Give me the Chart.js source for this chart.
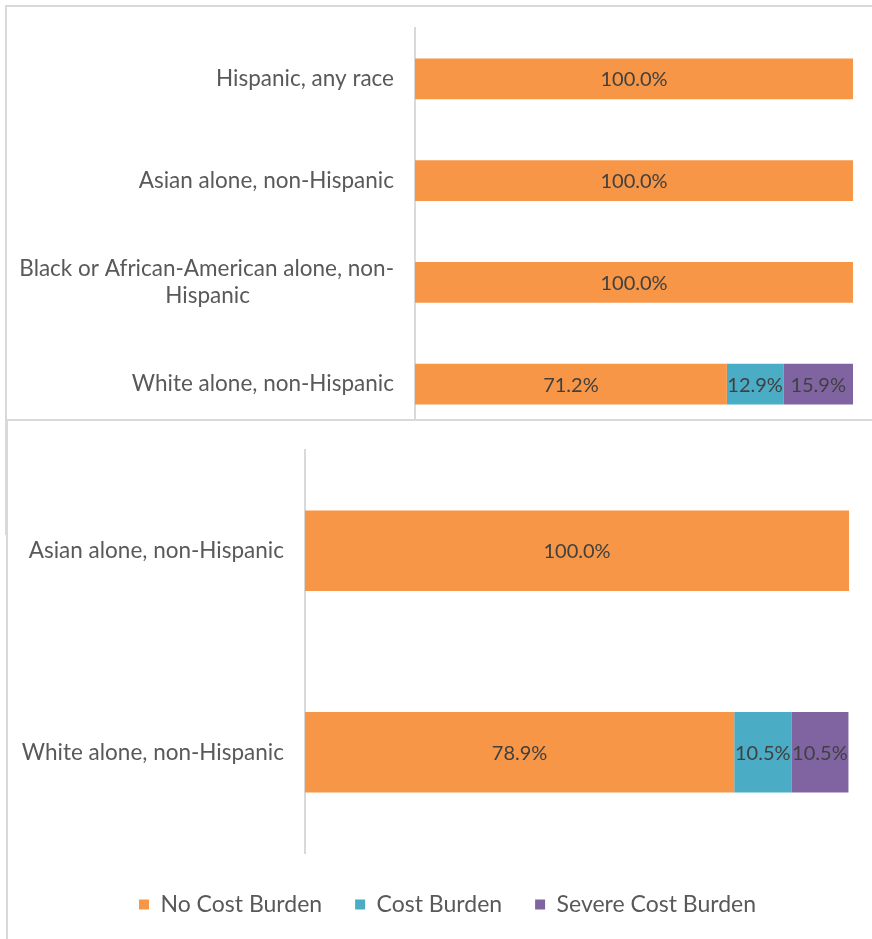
<!DOCTYPE html>
<html lang="en">
<head>
  <meta charset="UTF-8">
  <title>Cost Burden by Race / Ethnicity</title>
  <script src="https://cdn.jsdelivr.net/npm/chart.js"></script>
  <style>
    html, body {
      margin: 0;
      padding: 0;
      background: #fff;
      overflow: hidden;
    }
    body {
      position: relative;
      width: 872px;
      height: 939px;
    }
    .frame {
      position: absolute;
      background: #fff;
      border-top: 2px solid #d9d9d9;
      border-left: 2px solid #d9d9d9;
    }
    #frameTop { left: 5px; top: 5px; width: 900px; height: 528px; }
    #frameBottom { left: 6px; top: 419px; width: 900px; height: 560px; }
    canvas { position: absolute; left: 0; }
    #chartTop { top: 0; }
    #chartBottom { top: 420px; }
  </style>
</head>
<body>
  <div class="frame" id="frameTop"></div>
  <canvas id="chartTop" width="872" height="533"></canvas>
  <div class="frame" id="frameBottom"></div>
  <canvas id="chartBottom" width="872" height="519"></canvas>

  <script>
    const seriesNames = ['No Cost Burden', 'Cost Burden', 'Severe Cost Burden'];
    const seriesColors = ['#f79646', '#4bacc6', '#8064a2'];

    // upper panel
    const topCategories = [
      'Hispanic, any race',
      'Asian alone, non-Hispanic',
      ['Black or African-American alone, non-', 'Hispanic'],
      'White alone, non-Hispanic'
    ];
    const topNoBurden = [100.0, 100.0, 100.0, 71.2];
    const topBurden = [0, 0, 0, 12.9];
    const topSevere = [0, 0, 0, 15.9];

    // lower panel
    const bottomCategories = ['Asian alone, non-Hispanic', 'White alone, non-Hispanic'];
    const bottomNoBurden = [100.0, 78.9];
    const bottomBurden = [0, 10.5];
    const bottomSevere = [0, 10.5];

    const fontFamily = 'Lato, "Open Sans", sans-serif';
    const tickFontSize = 22.5;

    // wrapped labels: center the continuation lines under the first one
    const measureCtx = document.createElement('canvas').getContext('2d');
    measureCtx.font = tickFontSize + 'px ' + fontFamily;
    function centerLines(label) {
      if (!Array.isArray(label)) return label;
      const full = measureCtx.measureText(label[0]).width;
      const space = measureCtx.measureText('\u00a0').width;
      return label.map((line, i) => {
        if (i === 0) return line;
        const gap = (full - measureCtx.measureText(line).width) / 2;
        return line + '\u00a0'.repeat(Math.round(gap / space));
      });
    }

    // writes the percentage in the middle of every non-empty segment
    const segmentLabels = {
      id: 'segmentLabels',
      afterDatasetsDraw(chart) {
        const ctx = chart.ctx;
        ctx.save();
        ctx.font = '20px ' + fontFamily;
        ctx.fillStyle = '#404040';
        ctx.textAlign = 'center';
        ctx.textBaseline = 'middle';
        chart.data.datasets.forEach((ds, i) => {
          chart.getDatasetMeta(i).data.forEach((bar, j) => {
            const v = ds.data[j];
            if (!v) return;
            const cx = (bar.x + bar.base) / 2;
            ctx.fillText(v.toFixed(1) + '%', cx, bar.y + 1);
          });
        });
        ctx.restore();
      }
    };

    // category labels may run past the left padding, so don't clip them there
    const looseLabels = {
      id: 'looseLabels',
      afterLayout(chart) {
        chart.scales.y.left = 0;
      }
    };

    function buildDatasets(a, b, c, pct) {
      return [a, b, c].map((vals, i) => ({
        label: seriesNames[i],
        data: vals,
        backgroundColor: seriesColors[i],
        borderWidth: 0,
        categoryPercentage: 1,
        barPercentage: pct
      }));
    }

    function buildOptions(axisWidth, padding, showLegend, xHeight) {
      return {
        indexAxis: 'y',
        responsive: false,
        animation: false,
        layout: { padding },
        scales: {
          x: {
            stacked: true,
            min: 0,
            max: 100,
            display: xHeight > 0,
            grid: { display: false },
            border: { display: false },
            ticks: { display: false },
            afterFit: s => { s.height = xHeight; }
          },
          y: {
            stacked: true,
            grid: { drawOnChartArea: false, drawTicks: false },
            border: { color: '#d9d9d9', width: 2 },
            ticks: {
              color: '#595959',
              padding: 21,
              font: { family: fontFamily, size: tickFontSize, lineHeight: 1.2 },
              callback(value) { return centerLines(this.getLabelForValue(value)); }
            },
            afterFit: s => {
              s.width = axisWidth;
              s.paddingTop = 0;
              s.paddingBottom = 0;
            }
          }
        },
        plugins: {
          tooltip: { enabled: false },
          legend: {
            display: showLegend,
            position: 'bottom',
            labels: {
              color: '#595959',
              boxWidth: 10,
              boxHeight: 10,
              padding: 33,
              font: { family: fontFamily, size: 23 }
            }
          }
        }
      };
    }

    new Chart(document.getElementById('chartTop'), {
      type: 'bar',
      data: {
        labels: topCategories,
        datasets: buildDatasets(topNoBurden, topBurden, topSevere, 0.4)
      },
      options: buildOptions(415, { top: 28, bottom: 98, right: 19, left: 0 }, false, 0),
      plugins: [segmentLabels]
    });

    new Chart(document.getElementById('chartBottom'), {
      type: 'bar',
      data: {
        labels: bottomCategories,
        datasets: buildDatasets(bottomNoBurden, bottomBurden, bottomSevere, 0.4)
      },
      options: buildOptions(259, { top: 30, bottom: 13, right: 23, left: 46 }, true, 7),
      plugins: [segmentLabels, looseLabels]
    });
  </script>
</body>
</html>
